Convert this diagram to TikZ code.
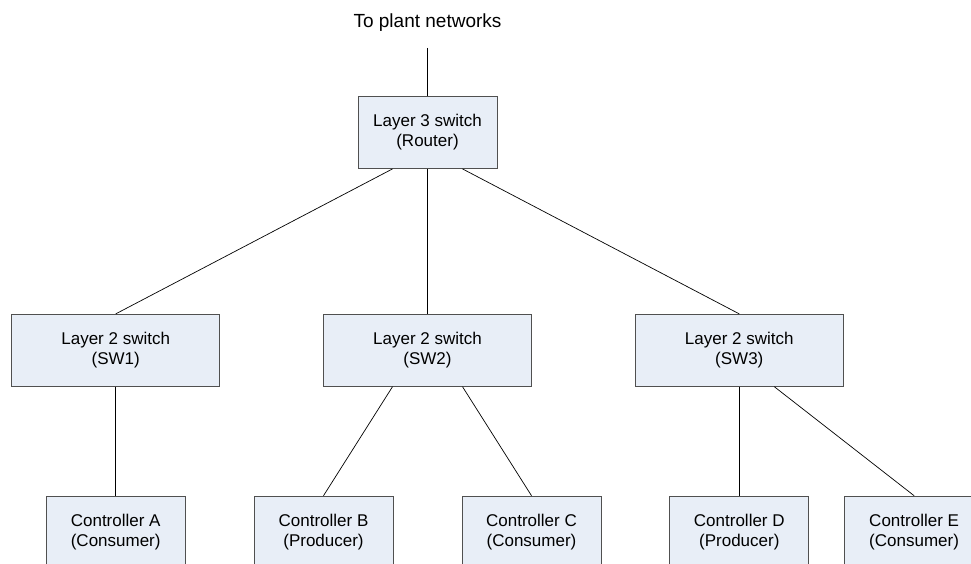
\documentclass[tikz,border=0pt]{standalone}
\usepackage{fontspec}
\setmainfont{Liberation Sans}
\usepackage{xcolor}
\usepackage{tikz}
\usetikzlibrary{positioning}

\definecolor{boxfill}{RGB}{232,238,247}
\definecolor{boxline}{RGB}{80,80,80}

\begin{document}
\begin{tikzpicture}[
            x=1pt, y=-1pt,
            node distance=103pt,
            swbox/.style={rectangle, draw=boxline, fill=boxfill, line width=0.8pt,
                minimum width=139pt, minimum height=72pt, align=center,
                inner sep=0pt, font=\fontsize{17}{20}\selectfont},
            widebox/.style={swbox, minimum width=208pt},
            link/.style={draw=black, line width=0.7pt}
        ]
        \useasboundingbox (0,0) rectangle (971,564);

        % Router
        \node[swbox] (router) at (427.5,132.5) {Layer 3 switch\\(Router)};
        \coordinate (uplink) at (427.5,48);
        \node[font=\fontsize{19}{22}\selectfont] (plant) at (427.5,23) {To plant networks};
        \draw[link] (uplink) -- (router);

        % Layer 2 switches
        \node[widebox, below=145pt of router] (sw2) {Layer 2 switch\\(SW2)};
        \node[widebox, left=of sw2] (sw1) {Layer 2 switch\\(SW1)};
        \node[widebox, right=of sw2] (sw3) {Layer 2 switch\\(SW3)};

        % Controllers
        \node[swbox, below=109pt of sw1] (ctrlA) {Controller A\\(Consumer)};
        \node[swbox, below=109pt of sw2, xshift=-104pt] (ctrlB) {Controller B\\(Producer)};
        \node[swbox, below=109pt of sw2, xshift=104pt] (ctrlC) {Controller C\\(Consumer)};
        \node[swbox, below=109pt of sw3] (ctrlD) {Controller D\\(Producer)};
        \node[swbox, right=35pt of ctrlD] (ctrlE) {Controller E\\(Consumer)};

        % Connections
        \draw[link] ([xshift=-35pt]router.south) -- (sw1.north);
        \draw[link] (router) -- (sw2);
        \draw[link] ([xshift=35pt]router.south) -- (sw3.north);
        \draw[link] (sw1) -- (ctrlA);
        \draw[link] ([xshift=-35pt]sw2.south) -- (ctrlB.north);
        \draw[link] ([xshift=35pt]sw2.south) -- (ctrlC.north);
        \draw[link] (sw3) -- (ctrlD);
        \draw[link] ([xshift=35pt]sw3.south) -- (ctrlE.north);

    \end{tikzpicture}
\end{document}
